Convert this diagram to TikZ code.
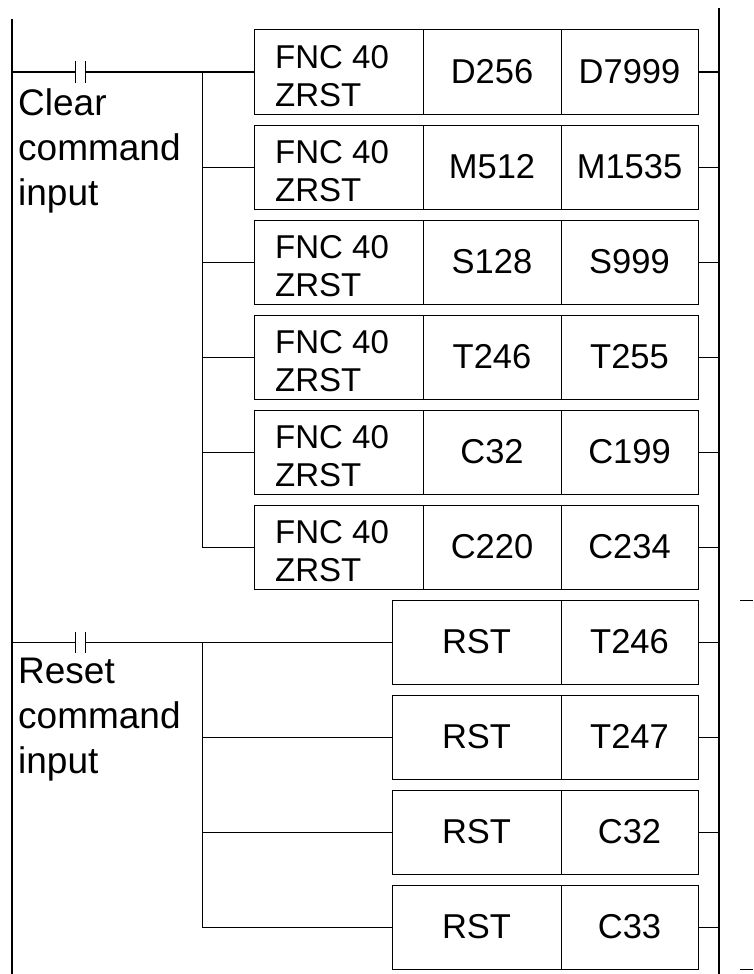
\documentclass[tikz,border=0pt]{standalone}
\usepackage{fontspec}
\setmainfont{Liberation Sans}
\usetikzlibrary{positioning}

\tikzset{
  ladbox/.style={draw, line width=1pt, minimum height=84pt, inner sep=0pt, outer sep=0pt},
  boxtext/.style={font=\fontsize{33}{38}\selectfont, inner sep=0pt},
  celltext/.style={font=\fontsize{34.5}{38}\selectfont, inner sep=0pt, anchor=base},
  rungtext/.style={font=\fontsize{37}{45}\selectfont, inner sep=0pt, align=left},
  wire/.style={line width=1pt},
  railline/.style={line width=1.5pt}
}

\begin{document}
\begin{tikzpicture}[x=1pt,y=-1pt]
\useasboundingbox (0,0) rectangle (753,974);

% Rails
\coordinate (lt) at (12,19);
\coordinate (lb) at (12,974);
\coordinate (rt) at (719,8);
\coordinate (rb) at (719,974);
\draw[railline] (lt) -- (lb);
\draw[railline] (rt) -- (rb);

% Clear rung
\coordinate (l1) at (12,72);
\coordinate (ka1) at (75,72);
\coordinate (kb1) at (85,72);
\draw[wire] (l1) -- (ka1);
\draw[wire] ([yshift=10.5pt]ka1) -- ([yshift=-10.5pt]ka1);
\draw[wire] ([yshift=10.5pt]kb1) -- ([yshift=-10.5pt]kb1);
\node[rungtext, anchor=north west] (clear) at (18,88) {Clear\\command\\input};

\foreach \i/\lo/\hi [evaluate=\i as \y using {72+95*(\i-1)}] in
  {1/D256/D7999, 2/M512/M1535, 3/S128/S999, 4/T246/T255, 5/C32/C199, 6/C220/C234} {
    \node[ladbox, minimum width=169pt, anchor=west] (f\i) at (254,\y) {};
    \node[ladbox, minimum width=138pt, right=0pt of f\i] (a\i) {};
    \node[ladbox, minimum width=137pt, right=0pt of a\i] (b\i) {};
    \node[boxtext, align=left, anchor=north west] (n\i) at ([xshift=21pt,yshift=-15pt]f\i.north west) {FNC 40\\ZRST};
    \node[celltext] (p\i) at ([yshift=-11.5pt]a\i.center) {\lo};
    \node[celltext] (q\i) at ([yshift=-11.5pt]b\i.center) {\hi};
    \coordinate (j\i) at (202,\y);
    \coordinate (e\i) at (719,\y);
    \draw[wire] (j\i) -- (f\i.west);
    \draw[wire] (b\i.east) -- (e\i);
}
\draw[wire] (kb1) -- (j1);
\draw[wire] (j1) -- (j6);

% Reset rung
\coordinate (l2) at (12,642);
\coordinate (ka2) at (75,642);
\coordinate (kb2) at (85,642);
\draw[wire] (l2) -- (ka2);
\draw[wire] ([yshift=10.5pt]ka2) -- ([yshift=-10.5pt]ka2);
\draw[wire] ([yshift=10.5pt]kb2) -- ([yshift=-10.5pt]kb2);
\node[rungtext, anchor=north west] (reset) at (18,658) {Reset\\command\\input};

\foreach \i/\dev [evaluate=\i as \y using {642+95*(\i-1)}] in
  {1/T246, 2/T247, 3/C32, 4/C33} {
    \node[ladbox, minimum width=169pt, anchor=west] (r\i) at (392,\y) {};
    \node[ladbox, minimum width=137pt, right=0pt of r\i] (c\i) {};
    \node[celltext] (rt\i) at ([yshift=-11pt]r\i.center) {RST};
    \node[celltext] (d\i) at ([yshift=-11pt]c\i.center) {\dev};
    \coordinate (m\i) at (202,\y);
    \coordinate (g\i) at (719,\y);
    \draw[wire] (m\i) -- (r\i.west);
    \draw[wire] (c\i.east) -- (g\i);
}
\draw[wire] (kb2) -- (m1);
\draw[wire] (m1) -- (m4);

% Next rail stubs
\coordinate (s1) at (740,600);
\coordinate (s2) at (753,600);
\coordinate (s3) at (740,969);
\coordinate (s4) at (753,969);
\draw[wire] (s1) -- (s2);
\draw[wire] (s3) -- (s4);
\end{tikzpicture}
\end{document}
